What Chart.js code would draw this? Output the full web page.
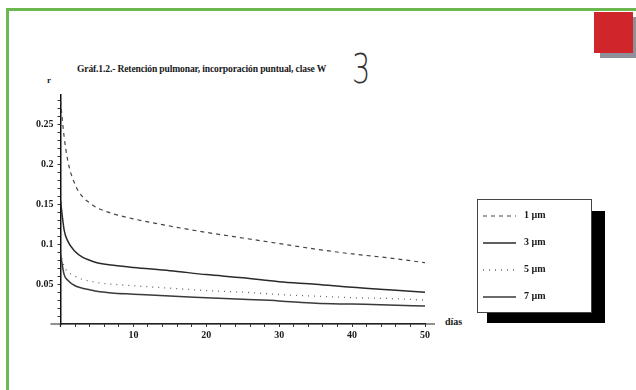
<!DOCTYPE html>
<html>
<head>
<meta charset="utf-8">
<script src="https://cdn.jsdelivr.net/npm/chart.js@4/dist/chart.umd.min.js"></script>
<style>
  html, body { margin: 0; padding: 0; background: #fff; }
  body { width: 636px; height: 390px; position: relative; overflow: hidden; font-family: "Liberation Serif", serif; }
  #wrap { position: absolute; left: 0; top: 0; width: 636px; height: 390px; }
  .frameTop { position: absolute; left: 6px; top: 8px; width: 630px; height: 3px; background: #6cb850; }
  .frameLeft { position: absolute; left: 6px; top: 8px; width: 3px; height: 382px; background: #6cb850; }
  .sqShadow { position: absolute; left: 600px; top: 17px; width: 36px; height: 41px; background: #8e909a; }
  .sq { position: absolute; left: 594px; top: 12px; width: 39px; height: 41px; background: #d0262b; }
  .txt { position: absolute; color: #1a1a1a; font-weight: bold; white-space: nowrap; }
  #titulo { left: 77px; top: 63px; font-size: 9.6px; letter-spacing: -0.15px; }
  #tres { left: 352px; top: 46px; font-family: "DejaVu Sans", sans-serif; font-weight: 200; font-size: 40px; color: #333; transform: scaleX(0.72); transform-origin: left top; }
  #eixoR { left: 47px; top: 75px; font-size: 9px; }
  #eixoX { left: 445px; top: 316px; font-size: 10px; }
  #legSombra { position: absolute; left: 487px; top: 211px; width: 118px; height: 112px; background: #000; }
  #legenda { position: absolute; left: 477px; top: 199px; width: 113px; height: 112px; background: #fff; border: 1px solid #444; }
  .legItem { position: absolute; left: 5px; height: 12px; font-size: 10px; font-weight: bold; color: #1a1a1a; }
  .legItem svg { position: absolute; left: 0; top: 3px; }
  .legItem span { position: absolute; left: 41px; top: -1px; white-space: nowrap; }
</style>
</head>
<body>
<div class="frameTop"></div>
<div class="frameLeft"></div>
<div class="sqShadow"></div>
<div class="sq"></div>
<div class="txt" id="titulo">Gráf.1.2.- Retención pulmonar, incorporación puntual, clase W</div>
<div class="txt" id="tres">3</div>
<div class="txt" id="eixoR">r</div>
<div class="txt" id="eixoX">días</div>
<div id="wrap"><canvas id="chartRet"></canvas></div>
<div id="legSombra"></div>
<div id="legenda"></div>

<script>
// --- dados ---
const dias = [0, 0.5, 1, 2, 3, 4, 5, 7, 10, 15, 20, 25, 30, 35, 40, 45, 50];
const r1um = [0.28, 0.235, 0.205, 0.175, 0.160, 0.152, 0.146, 0.139, 0.132, 0.123, 0.115, 0.108, 0.101, 0.094, 0.088, 0.083, 0.077];
const r3um = [0.155, 0.118, 0.104, 0.091, 0.084, 0.080, 0.077, 0.074, 0.071, 0.067, 0.062, 0.058, 0.053, 0.050, 0.046, 0.043, 0.040];
const r5um = [0.09, 0.072, 0.066, 0.060, 0.056, 0.054, 0.052, 0.050, 0.048, 0.045, 0.042, 0.040, 0.037, 0.035, 0.033, 0.032, 0.030];
const r7um = [0.088, 0.062, 0.055, 0.048, 0.045, 0.043, 0.041, 0.039, 0.0375, 0.035, 0.033, 0.031, 0.029, 0.026, 0.025, 0.024, 0.0225];
const rotulos = ['1 µm', '3 µm', '5 µm', '7 µm'];
const xMaiores = [10, 20, 30, 40, 50];
const yMaiores = [0.05, 0.1, 0.15, 0.2, 0.25];

const pontos = arr => arr.map((v, i) => ({ x: dias[i], y: v }));

const estilos = [
  { cor: '#444', larg: 1.2, dash: [4, 4] },
  { cor: '#2a2a2a', larg: 1.5, dash: [] },
  { cor: '#666', larg: 1.3, dash: [1, 5] },
  { cor: '#3a3a3a', larg: 1.5, dash: [] }
];
const series = [r1um, r3um, r5um, r7um];

const fonteTick = { family: '"Liberation Serif", serif', size: 10, weight: 'bold' };

// ticks menores (a cada 2 dias / 0.01) + maiores com rótulo
const xTicks = [];
for (let v = 0; v <= 50; v += 2) xTicks.push(v);
const yTicks = [];
for (let k = 1; k <= 28; k++) yTicks.push(k / 100);

// eixo x estilo Mathematica: passa um pouco além do eixo y e do fim
const extEixo = {
  id: 'extEixo',
  afterDraw(c){
    const { ctx, chartArea: a } = c;
    ctx.save();
    ctx.strokeStyle = '#222'; ctx.lineWidth = 1.2;
    ctx.beginPath();
    ctx.moveTo(a.left - 10, a.bottom); ctx.lineTo(a.right + 10, a.bottom);
    ctx.moveTo(a.left, a.bottom); ctx.lineTo(a.left, a.bottom + 3);
    ctx.stroke();
    ctx.restore();
  }
};

new Chart(document.getElementById('chartRet'), {
  type: 'line',
  data: {
    datasets: series.map((s, i) => ({
      label: rotulos[i],
      data: pontos(s),
      borderColor: estilos[i].cor,
      borderWidth: estilos[i].larg,
      borderDash: estilos[i].dash,
      pointRadius: 0,
      fill: false,
      cubicInterpolationMode: 'monotone'
    }))
  },
  options: {
    responsive: true, maintainAspectRatio: false, animation: false,
    layout: { padding: { left: 32, right: 211, top: 95, bottom: 47 } },
    plugins: { legend: { display: false }, tooltip: { enabled: false } },
    scales: {
      x: {
        type: 'linear', min: 0, max: 50,
        afterBuildTicks: s => { s.ticks = xTicks.map(v => ({ value: v })); },
        ticks: { color: '#1a1a1a', font: fonteTick, padding: 2, maxRotation: 0, autoSkip: false,
                 callback: v => xMaiores.includes(v) ? String(v) : '' },
        grid: { drawOnChartArea: false, tickLength: 3, tickColor: '#333' },
        border: { color: '#222', width: 1.2 }
      },
      y: {
        type: 'linear', min: 0, max: 0.2875, position: 'left',
        afterBuildTicks: s => { s.ticks = yTicks.map(v => ({ value: v })); },
        ticks: { color: '#1a1a1a', font: fonteTick, padding: 4, autoSkip: false,
                 callback: v => yMaiores.includes(v) ? String(v) : '' },
        grid: { drawOnChartArea: false, tickLength: 3, tickColor: '#333' },
        border: { color: '#111', width: 1.5 }
      }
    }
  },
  plugins: [extEixo]
});

// legenda com amostras de linha
const leg = document.getElementById('legenda');
const topos = [10, 37, 64, 91];
rotulos.forEach((t, i) => {
  const d = document.createElement('div');
  d.className = 'legItem';
  d.style.top = topos[i] + 'px';
  const e = estilos[i];
  d.innerHTML = `<svg width="34" height="6"><line x1="0" y1="3" x2="33" y2="3" stroke="${e.cor}" stroke-width="${e.larg}" stroke-dasharray="${e.dash.join(',') || 'none'}"/></svg><span>${t}</span>`;
  leg.appendChild(d);
});
</script>
</body>
</html>
